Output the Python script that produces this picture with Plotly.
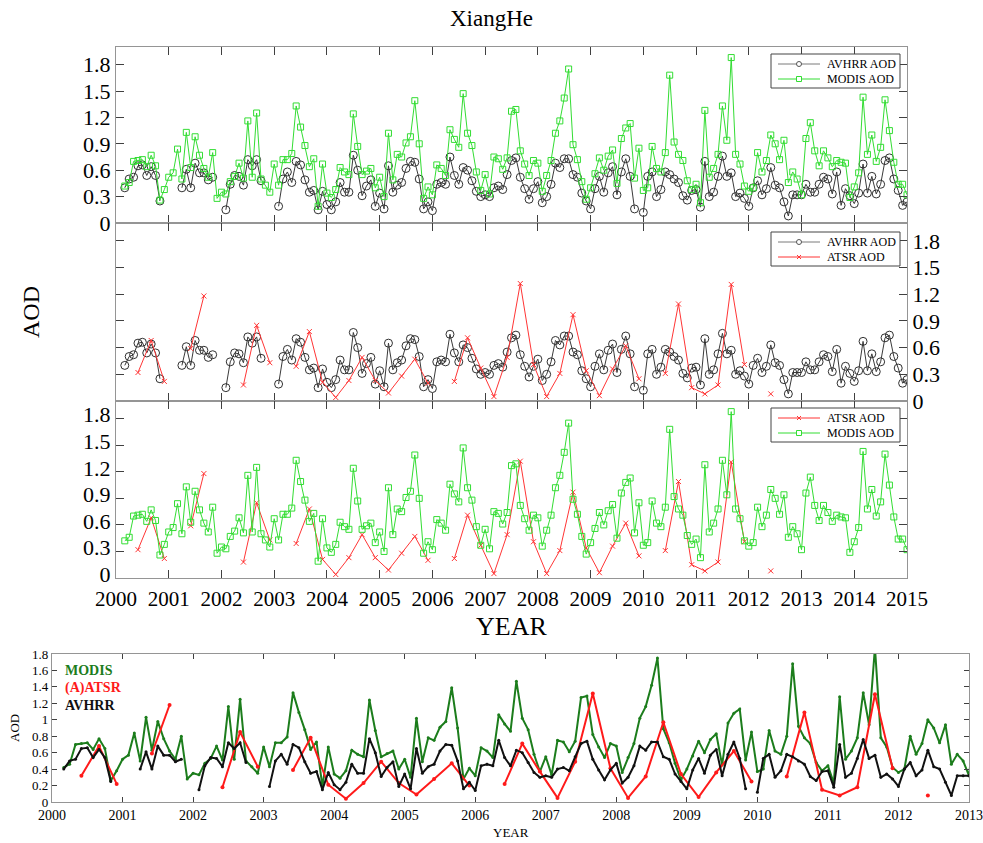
import plotly.graph_objects as go

# Monthly mean AOD over XiangHe, Jan 2000 ... Jan 2015 (None = no retrieval)
avhrr_aod = [
    None, None, 0.40, 0.50, 0.52, 0.65, 0.66, 0.54, 0.64, 0.54, 0.25, None,   # 2000
    None, None, None, 0.40, 0.61, 0.40, 0.68, 0.57, 0.57, 0.49, 0.52, None,   # 2001
    None, 0.15, 0.44, 0.54, 0.53, 0.43, 0.72, 0.65, 0.72, 0.48, None, None,   # 2002
    None, 0.19, 0.50, 0.58, 0.46, 0.70, 0.66, 0.49, 0.35, 0.37, 0.15, 0.36,   # 2003
    0.21, 0.15, 0.24, 0.46, 0.35, 0.35, 0.77, 0.60, 0.31, 0.42, 0.49, 0.19,   # 2004
    0.34, 0.16, 0.65, 0.35, 0.43, 0.46, 0.62, 0.70, 0.69, 0.50, 0.16, 0.24,   # 2005
    0.14, 0.44, 0.46, 0.44, 0.75, 0.54, 0.44, 0.63, 0.60, 0.48, 0.36, 0.30,   # 2006
    0.32, 0.30, 0.40, 0.42, 0.38, 0.55, 0.71, 0.74, 0.52, 0.39, 0.27, 0.39,   # 2007
    0.47, 0.23, 0.30, 0.44, 0.68, 0.63, 0.73, 0.73, 0.55, 0.52, 0.34, 0.25,   # 2008
    0.16, 0.39, 0.53, 0.35, 0.57, 0.64, 0.32, 0.58, 0.73, 0.53, 0.16, None,   # 2009
    0.12, 0.53, 0.58, 0.30, 0.38, 0.58, 0.55, 0.50, 0.46, 0.31, 0.26, 0.37,   # 2010
    0.38, 0.18, 0.70, 0.30, 0.35, 0.53, 0.76, 0.53, 0.57, 0.30, 0.34, 0.28,   # 2011
    0.19, 0.40, 0.48, 0.32, 0.39, 0.63, 0.43, 0.40, 0.24, 0.08, 0.32, 0.32,   # 2012
    0.32, 0.44, 0.35, 0.35, 0.44, 0.52, 0.50, 0.33, 0.58, 0.20, 0.39, 0.31,   # 2013
    0.22, 0.34, 0.67, 0.34, 0.53, 0.33, 0.44, 0.71, 0.74, 0.50, 0.37, 0.20,   # 2014
    0.24,                                                                      # 2015
]

modis_aod = [
    None, None, 0.42, 0.46, 0.70, 0.71, 0.72, 0.64, 0.77, 0.65, 0.26, 0.38,   # 2000
    0.52, 0.57, 0.84, 0.50, 1.03, 0.63, 0.98, 0.77, 0.62, 0.52, 0.80, 0.28,   # 2001
    0.35, 0.33, 0.47, 0.53, 0.68, 0.51, 1.16, 0.52, 1.25, 0.50, 0.43, 0.35,   # 2002
    0.67, 0.43, 0.72, 0.72, 0.79, 1.33, 1.09, 0.88, 0.64, 0.73, 0.19, 0.67,   # 2003
    0.34, 0.29, 0.38, 0.63, 0.58, 0.55, 1.24, 0.87, 0.55, 0.59, 0.62, 0.40,   # 2004
    0.52, 0.30, 1.02, 0.49, 0.78, 0.75, 0.91, 0.98, 1.39, 0.90, 0.28, 0.41,   # 2005
    0.32, 0.66, 0.62, 0.54, 1.06, 0.95, 0.86, 1.47, 1.02, 0.88, 0.58, 0.37,   # 2006
    0.55, 0.33, 0.75, 0.73, 0.61, 0.74, 1.27, 1.29, 0.82, 0.67, 0.54, 0.71,   # 2007
    0.68, 0.36, 0.54, 0.71, 1.02, 1.16, 1.42, 1.75, 0.89, 0.72, 0.47, 0.27,   # 2008
    0.40, 0.56, 0.74, 0.60, 0.76, 0.83, 0.45, 0.96, 1.08, 1.13, 0.51, 0.85,   # 2009
    0.37, 0.40, 0.87, 0.62, 0.58, 0.80, 1.68, 0.92, 0.78, 0.71, 0.48, 0.38,   # 2010
    0.44, 0.23, 1.28, 0.52, 0.62, 0.78, 1.33, 0.94, 1.88, 0.78, 0.67, 0.42,   # 2011
    0.36, 0.40, 0.80, 0.58, 0.71, 1.00, 0.90, 0.72, 0.94, 0.46, 0.58, 0.50,   # 2012
    0.32, 0.96, 1.14, 0.82, 0.65, 0.82, 0.74, 0.64, 0.71, 0.69, 0.68, 0.29,   # 2013
    0.41, 0.57, 1.43, 0.78, 1.00, 0.70, 0.86, 1.40, 1.05, 0.69, 0.44, 0.44,   # 2014
    0.32,                                                                      # 2015
]

# Seasonal (A)ATSR AOD: Mar, Jun, Sep, Dec starting Mar 2000
atsr_aod = [
    None, 0.32, 0.68, 0.22,   # 2000
    None, 0.59, 1.18, None,   # 2001
    None, 0.18, 0.85, 0.43,   # 2002
    None, 0.39, 0.78, 0.21,   # 2003
    0.04, 0.23, 0.49, 0.23,   # 2004
    0.09, 0.28, 0.47, 0.20,   # 2005
    None, 0.22, 0.71, 0.37,   # 2006
    0.05, 0.49, 1.32, 0.41,   # 2007
    0.05, 0.31, 0.97, 0.34,   # 2008
    0.06, 0.36, 0.62, 0.25,   # 2009
    None, 0.31, 1.09, 0.15,   # 2010
    0.08, 0.18, 1.31, 0.41,   # 2011
    None, 0.08,               # 2012
]

months = [2000 + i / 12 for i in range(len(modis_aod))]
atsr_dates = [2000 + (2 + 3 * k) / 12 for k in range(len(atsr_aod))]

years_top = list(range(2000, 2016))
years_bottom = list(range(2000, 2014))
aod_ticks_top = [0, 0.3, 0.6, 0.9, 1.2, 1.5, 1.8]
aod_text_top = ["0", "0.3", "0.6", "0.9", "1.2", "1.5", "1.8"]
aod_ticks_bottom = [0, 0.2, 0.4, 0.6, 0.8, 1.0, 1.2, 1.4, 1.6, 1.8]
aod_text_bottom = ["0", "0.2", "0.4", "0.6", "0.8", "1", "1.2", "1.4", "1.6", "1.8"]

W, H = 983, 843
SERIF = "Liberation Serif, Times New Roman, serif"
FRAME = "#959595"
TICK = "#404040"

GREEN = "#33dd33"
RED = "#ff3535"
GREY = "#3a3a3a"


def px_x(p):
    return p / W


def px_y(p):
    return 1 - p / H


fig = go.Figure()


def avhrr_trace(xa, ya):
    return go.Scatter(
        x=months, y=avhrr_aod, mode="lines+markers", name="AVHRR AOD",
        xaxis=xa, yaxis=ya, showlegend=False,
        line=dict(color=GREY, width=1),
        marker=dict(symbol="circle-open", size=8, color="#303030",
                    line=dict(width=1)),
    )


def modis_trace(xa, ya):
    return go.Scatter(
        x=months, y=modis_aod, mode="lines+markers", name="MODIS AOD",
        xaxis=xa, yaxis=ya, showlegend=False,
        line=dict(color=GREEN, width=1),
        marker=dict(symbol="square-open", size=6, color=GREEN,
                    line=dict(width=1)),
    )


def atsr_trace(xa, ya):
    return go.Scatter(
        x=atsr_dates, y=atsr_aod, mode="lines+markers", name="ATSR AOD",
        xaxis=xa, yaxis=ya, showlegend=False,
        line=dict(color=RED, width=1),
        marker=dict(symbol="x-thin-open", size=5, color=RED,
                    line=dict(width=1, color=RED)),
    )


# panel 1: AVHRR vs MODIS
fig.add_trace(avhrr_trace("x", "y"))
fig.add_trace(modis_trace("x", "y"))
# panel 2: AVHRR vs ATSR
fig.add_trace(avhrr_trace("x2", "y2"))
fig.add_trace(atsr_trace("x2", "y2"))
# panel 3: ATSR vs MODIS
fig.add_trace(atsr_trace("x3", "y3"))
fig.add_trace(modis_trace("x3", "y3"))

# bottom overview panel, 2000-2013
fig.add_trace(go.Scatter(
    x=months, y=modis_aod, mode="lines+markers", name="MODIS",
    xaxis="x4", yaxis="y4", showlegend=False,
    line=dict(color="#1c7d1c", width=2), marker=dict(size=3, color="#1c7d1c")))
fig.add_trace(go.Scatter(
    x=atsr_dates, y=atsr_aod, mode="lines+markers", name="(A)ATSR",
    xaxis="x4", yaxis="y4", showlegend=False,
    line=dict(color="#ff1a1a", width=2), marker=dict(size=4, color="#ff1a1a")))
fig.add_trace(go.Scatter(
    x=months, y=avhrr_aod, mode="lines+markers", name="AVHRR",
    xaxis="x4", yaxis="y4", showlegend=False,
    line=dict(color="#111111", width=2), marker=dict(size=3, color="#111111")))

top_x_dom = [px_x(116), px_x(907)]
panel_y = [(47, 223), (223, 401), (401, 578)]

axis_common = dict(
    showline=True, linecolor=FRAME, linewidth=1.2, mirror="ticks",
    ticks="inside", ticklen=8, tickwidth=1, tickcolor=TICK,
    showgrid=False, zeroline=False, automargin=False,
)

layout = dict(
    width=W, height=H, autosize=False,
    margin=dict(l=0, r=0, t=0, b=0, pad=0, autoexpand=False),
    paper_bgcolor="white", plot_bgcolor="white",
    font=dict(family=SERIF, color="black"),
    showlegend=False,
)

for k, (top, bot) in enumerate(panel_y, start=1):
    sfx = "" if k == 1 else str(k)
    layout["xaxis" + sfx] = dict(
        axis_common, domain=top_x_dom, range=[2000, 2015], anchor="y" + sfx,
        tickvals=years_top, ticktext=[str(v) for v in years_top],
        showticklabels=(k == 3), tickfont=dict(family=SERIF, size=21),
        ticklabelstandoff=2,
    )
    layout["yaxis" + sfx] = dict(
        axis_common, domain=[px_y(bot), px_y(top)], range=[0, 2.0],
        anchor="x" + sfx, side="right" if k == 2 else "left",
        tickvals=aod_ticks_top, ticktext=aod_text_top,
        tickfont=dict(family=SERIF, size=22),
        ticklabelshift=-4 if k == 3 else 0,
    )

layout["xaxis4"] = dict(
    axis_common, domain=[px_x(52), px_x(969)], range=[2000, 2013], anchor="y4",
    tickvals=years_bottom, ticktext=[str(v) for v in years_bottom],
    ticklen=5, tickfont=dict(family=SERIF, size=14),
)
layout["yaxis4"] = dict(
    axis_common, domain=[px_y(802), px_y(654)], range=[0, 1.8], anchor="x4",
    tickvals=aod_ticks_bottom, ticktext=aod_text_bottom,
    ticklen=5, tickfont=dict(family=SERIF, size=13),
)

annotations = [
    dict(text="XiangHe", x=px_x(491), y=px_y(18), xref="paper", yref="paper",
         showarrow=False, font=dict(family=SERIF, size=23),
         xanchor="center", yanchor="middle"),
    dict(text="AOD", x=px_x(31), y=px_y(312), xref="paper", yref="paper",
         showarrow=False, textangle=-90, font=dict(family=SERIF, size=24),
         xanchor="center", yanchor="middle"),
    dict(text="YEAR", x=px_x(511), y=px_y(626), xref="paper", yref="paper",
         showarrow=False, font=dict(family=SERIF, size=26),
         xanchor="center", yanchor="middle"),
    dict(text="AOD", x=px_x(14), y=px_y(728), xref="paper", yref="paper",
         showarrow=False, textangle=-90, font=dict(family=SERIF, size=13),
         xanchor="center", yanchor="middle"),
    dict(text="YEAR", x=px_x(511), y=px_y(832), xref="paper", yref="paper",
         showarrow=False, font=dict(family=SERIF, size=13),
         xanchor="center", yanchor="middle"),
]

bottom_labels = [("MODIS", "#1c7d1c", 670), ("(A)ATSR", "#ff1a1a", 688),
                 ("AVHRR", "#111111", 705)]
for text, color, ypix in bottom_labels:
    annotations.append(dict(
        text="<b>" + text + "</b>", x=px_x(63), y=px_y(ypix),
        xref="paper", yref="paper", showarrow=False,
        font=dict(family=SERIF, size=14, color=color),
        xanchor="left", yanchor="middle"))

# Boxed keys for the three upper panels
shapes = []
LEG_STYLE = {
    "AVHRR AOD": ("#7a7a7a", "circle"),
    "MODIS AOD": (GREEN, "square"),
    "ATSR AOD": (RED, "x"),
}
legend_boxes = [
    (54, ["AVHRR AOD", "MODIS AOD"]),
    (232, ["AVHRR AOD", "ATSR AOD"]),
    (408, ["ATSR AOD", "MODIS AOD"]),
]


def pbox(x0, y0, x1, y1):
    return dict(xref="paper", yref="paper",
                x0=px_x(x0), x1=px_x(x1), y0=px_y(y1), y1=px_y(y0))


for top, names in legend_boxes:
    shapes.append(dict(type="rect", layer="above", fillcolor="white",
                       line=dict(color="#444444", width=1),
                       **pbox(771, top, 900, top + 34)))
    for j, name in enumerate(names):
        color, sym = LEG_STYLE[name]
        yc = top + 10 + 15 * j
        shapes.append(dict(type="line", layer="above",
                           line=dict(color=color, width=1),
                           **pbox(778, yc, 820, yc)))
        if sym == "circle":
            shapes.append(dict(type="circle", layer="above", fillcolor="white",
                               line=dict(color="#555555", width=1),
                               **pbox(796.5, yc - 2.5, 801.5, yc + 2.5)))
        elif sym == "square":
            shapes.append(dict(type="rect", layer="above", fillcolor="white",
                               line=dict(color=color, width=1),
                               **pbox(796.5, yc - 2.5, 801.5, yc + 2.5)))
        else:
            shapes.append(dict(type="line", layer="above",
                               line=dict(color=color, width=1),
                               **pbox(797, yc - 2, 801, yc + 2)))
            shapes.append(dict(type="line", layer="above",
                               line=dict(color=color, width=1),
                               **pbox(797, yc + 2, 801, yc - 2)))
        annotations.append(dict(
            text=name, x=px_x(825), y=px_y(yc), xref="paper", yref="paper",
            showarrow=False, font=dict(family=SERIF, size=12, color="black"),
            xanchor="left", yanchor="middle"))

layout["annotations"] = annotations
layout["shapes"] = shapes
fig.update_layout(**layout)

fig.write_html("out.html")
